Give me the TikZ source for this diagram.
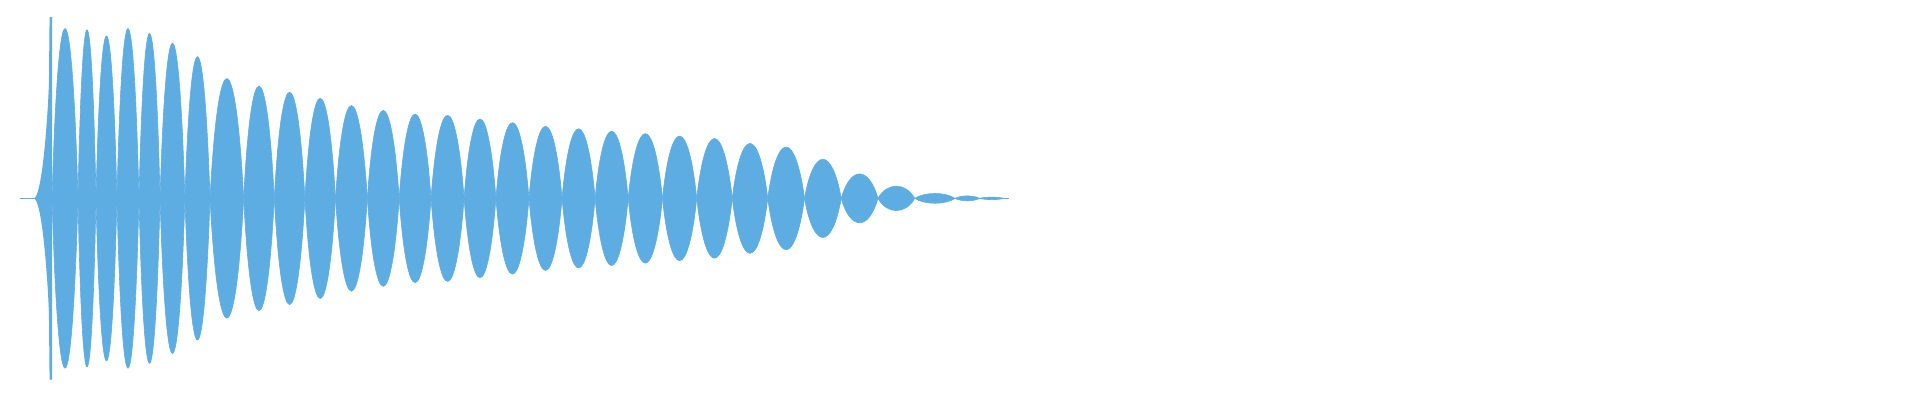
\documentclass[tikz,border=0pt]{standalone}
\definecolor{wave}{RGB}{93,173,226}
\tikzset{lobe/.style={fill=wave, draw=wave, line width=0.3pt}}
\begin{document}
\begin{tikzpicture}[x=0.6122pt, y=-0.6122pt]
  \useasboundingbox (0,0) rectangle (1568,326.6);
  % baseline at both ends
  \draw[wave, line width=0.8pt] (16,162) -- (42.5,162);
  \draw[wave, line width=0.8pt] (800,162) -- (824,162);
  % onset
  \fill[wave] (28,162) .. controls (34,158) and (38,110) .. (40,70) -- (42.5,162)
              -- (40,254) .. controls (38,214) and (34,166) .. (28,162);
  \fill[wave] (39,162) -- (40.5,14) -- (42.5,14) -- (42.5,310) -- (40.5,310) -- cycle;
  % lobes: start/end/top
  \foreach \a/\b/\t in {42.5/63.7/23, 63.7/78.4/24, 78.4/95.5/29, 95.5/113.5/23,
      113.5/130.7/27, 130.7/151/35, 151/171.5/46, 171.5/199/64, 199/224/70,
      224/249/75, 249/274/80, 274/300/86, 300/326/90, 326/352/93, 352/379/94,
      379/405/97, 405/432/100, 432/459/103, 459/486/105, 486/513/107,
      513/541/109, 541/569/111, 569/598/113, 598/627/117, 627/657/120,
      657/687/130, 687/717/142, 717/747/152, 747/780/158, 780/800/160, 800/820/161}{
    \pgfmathsetmacro{\w}{\b-\a}
    \pgfmathsetmacro{\h}{(162-\t)*1.33}
    \path[lobe] (\a,162) .. controls (\a+0.25*\w,162-\h) and (\b-0.25*\w,162-\h) .. (\b,162)
      .. controls (\b-0.25*\w,162+\h) and (\a+0.25*\w,162+\h) .. (\a,162) -- cycle;
  }
\end{tikzpicture}
\end{document}
